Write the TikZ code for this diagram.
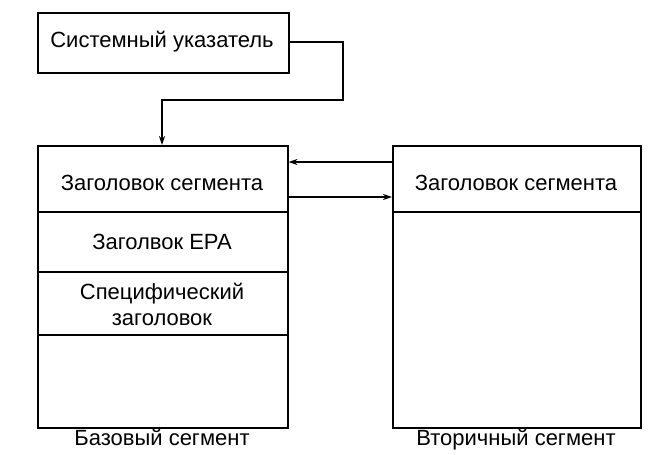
\documentclass[tikz,border=0pt]{standalone}
\usepackage{fontspec}
\setmainfont{Liberation Sans}
\usetikzlibrary{arrows.meta}
\tikzset{
	box/.style = {draw, line width=1.5pt, inner sep=0pt},
	lbl/.style = {font=\fontsize{22}{26}\selectfont, align=center},
	link/.style = {line width=1.2pt, -{Stealth[length=9pt, width=6pt]}}
}
\begin{document}
\begin{tikzpicture}[x=1pt, y=-1pt]
	\useasboundingbox (0, 0) rectangle (651, 455);
	% pointer box
	\node[box, minimum width=251pt, minimum height=60pt, anchor=north west] (ptr) at (37, 12) {};
	\node[lbl] at (162, 42) {Системный указатель};
	% base segment
	\node[box, minimum width=250pt, minimum height=282pt, anchor=north west] (base) at (37, 145) {};
	\draw[line width=1.5pt] (37, 212) -- (287, 212);
	\draw[line width=1.5pt] (37, 272) -- (287, 272);
	\draw[line width=1.5pt] (37, 335) -- (287, 335);
	\node[lbl] (bh) at (162, 183) {Заголовок сегмента};
	\node[lbl] (epa) at (162, 242) {Заголвок EPA};
	\node[lbl] (spec) at (162, 304) {Специфический\\заголовок};
	% secondary segment
	\node[box, minimum width=248pt, minimum height=282pt, anchor=north west] (sec) at (392, 145) {};
	\draw[line width=1.5pt] (392, 212) -- (640, 212);
	\node[lbl] (sh) at (516, 183) {Заголовок сегмента};
	% captions
	\node[lbl, anchor=base] (bcap) at (162, 445) {Базовый сегмент};
	\node[lbl, anchor=base] (scap) at (516, 445) {Вторичный сегмент};
	% connectors
	\coordinate (p1) at (343, 42);
	\coordinate (p2) at (343, 100);
	\coordinate (p3) at (162, 100);
	\draw[link] (ptr.east |- p1) -- (p1) -- (p2) -- (p3) -- (base.north -| p3);
	\draw[link] (sec.west |- 0, 162) -- (base.east |- 0, 162);
	\draw[link] (base.east |- 0, 197) -- (sec.west |- 0, 197);
\end{tikzpicture}
\end{document}
